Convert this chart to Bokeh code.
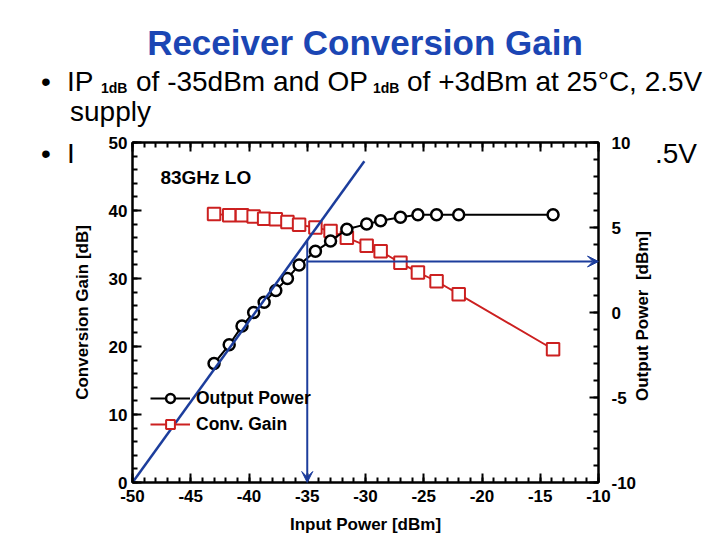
import numpy as np
from bokeh.embed import file_html
from bokeh.layouts import column
from bokeh.models import (Arrow, CustomJSTickFormatter, Div, FixedTicker, Label,
                          Legend, LegendItem, LinearAxis, Range1d, VeeHead)
from bokeh.plotting import figure
from bokeh.resources import INLINE

# measured points (input power in dBm)
input_power = [-43.0, -41.7, -40.6, -39.6, -38.7, -37.7, -36.7, -35.7, -34.3,
               -33.0, -31.6, -29.9, -28.7, -27.0, -25.5, -23.9, -22.0, -13.9]
output_power = [-3.0, -1.9, -0.8, 0.0, 0.6, 1.3, 2.0, 2.8, 3.6,
                4.2, 4.9, 5.2, 5.4, 5.6, 5.75, 5.75, 5.75, 5.75]
conv_gain = [39.5, 39.3, 39.3, 39.1, 38.8, 38.7, 38.3, 37.9, 37.5,
             37.0, 36.0, 34.8, 34.0, 32.3, 30.9, 29.6, 27.7, 19.6]

# small-signal extrapolation and 1 dB compression point
fit_in = [-50.0, -30.1]
fit_out = [-10.0, 8.9]
ip1db = -35.0
op1db = 3.0

x_ticks = list(range(-50, -9, 5))
gain_ticks = list(range(0, 51, 10))
pout_ticks = list(range(-10, 11, 5))

FONT = "Liberation Sans"
BLUE = "#1c3d9c"
TITLE_BLUE = "#1b46b4"
RED = "#cc2020"

# the page template has no body margin, so the figure can take the window
W, H = 720, 540

p = figure(width=W, height=H, output_backend="svg", toolbar_location=None,
           x_range=Range1d(-50, -10), y_range=Range1d(0, 50),
           min_border_left=132, min_border_right=122,
           min_border_top=142, min_border_bottom=58)
p.extra_y_ranges = {"pout": Range1d(-10, 10)}
p.grid.visible = False
p.outline_line_color = "black"
p.outline_line_width = 2
p.border_fill_color = "white"

plain = CustomJSTickFormatter(code="return tick.toString()")
p.xaxis.ticker = FixedTicker(ticks=x_ticks, minor_ticks=list(range(-50, -9)))
p.xaxis.axis_label = "Input Power [dBm]"
p.xaxis.formatter = plain
p.yaxis.ticker = FixedTicker(ticks=gain_ticks, minor_ticks=list(range(0, 51, 2)))
p.yaxis.axis_label = "Conversion Gain [dB]"
p.yaxis.formatter = plain

top = LinearAxis(ticker=FixedTicker(ticks=x_ticks, minor_ticks=list(range(-50, -9))),
                 formatter=CustomJSTickFormatter(code="return ''"))
p.add_layout(top, "above")
right = LinearAxis(y_range_name="pout", formatter=plain,
                   ticker=FixedTicker(ticks=pout_ticks, minor_ticks=list(range(-10, 11))))
p.add_layout(right, "right")

for ax in p.axis:
    ax.axis_line_width = 2
    ax.major_tick_line_width = 2
    ax.minor_tick_line_width = 2
    ax.major_tick_in = 9
    ax.major_tick_out = 0
    ax.minor_tick_in = 5
    ax.minor_tick_out = 0
    ax.major_label_text_font = FONT
    ax.major_label_text_font_style = "bold"
    ax.major_label_text_font_size = "17px"
    ax.major_label_text_color = "black"
    ax.axis_label_text_font = FONT
    ax.axis_label_text_font_style = "bold"
    ax.axis_label_text_font_size = "17px"
    ax.axis_label_text_color = "black"
p.xaxis.major_label_standoff = 7
p.xaxis.axis_label_standoff = 10
p.yaxis.major_label_standoff = 5
p.yaxis.axis_label_standoff = 14
right.major_label_standoff = 13

gl = p.line(input_power, conv_gain, line_color=RED, line_width=1.8)
gs = p.scatter(input_power, conv_gain, marker="square", size=12.5,
               line_color=RED, line_width=2, fill_color="white")
ol = p.line(input_power, output_power, y_range_name="pout",
            line_color="black", line_width=2)
os_ = p.scatter(input_power, output_power, y_range_name="pout", marker="circle",
                size=11, line_color="black", line_width=2.5, fill_color="white")

p.line(fit_in, fit_out, y_range_name="pout", line_color=BLUE, line_width=2.5)
drop_top = float(np.interp(ip1db, fit_in, fit_out))
p.add_layout(Arrow(x_start=ip1db, y_start=drop_top, x_end=ip1db, y_end=-10,
                   y_range_name="pout", line_color=BLUE, line_width=2,
                   end=VeeHead(size=11, fill_color=BLUE, line_color=BLUE)))
p.add_layout(Arrow(x_start=ip1db, y_start=op1db, x_end=-10, y_end=op1db,
                   y_range_name="pout", line_color=BLUE, line_width=2,
                   end=VeeHead(size=11, fill_color=BLUE, line_color=BLUE)))

legend = Legend(items=[LegendItem(label="Output Power", renderers=[ol, os_]),
                       LegendItem(label="Conv. Gain", renderers=[gl, gs])],
                location=(18, 47), padding=0, margin=0, spacing=4,
                glyph_width=40, glyph_height=22, label_height=22,
                label_standoff=6, border_line_color=None,
                background_fill_alpha=0, label_text_font=FONT,
                label_text_color="black",
                label_text_font_style="bold", label_text_font_size="17.5px")
p.add_layout(legend)

p.add_layout(Label(x=-47.6, y=44.8, text="83GHz LO", text_baseline="middle",
                   text_font=FONT, text_font_style="bold", text_color="black",
                   text_font_size="19px"))

# slide text around the chart: (left, baseline, text, size px, weight, colour)
slide = [
    (36, 86, "\u2022", 28, "normal", "black"),
    (62, 86, "IP", 28, "normal", "black"),
    (96, 89, "1dB", 14, "bold", "black"),
    (131, 86, "of -35dBm and OP", 28, "normal", "black"),
    (368, 89, "1dB", 14, "bold", "black"),
    (402, 86, "of +3dBm at 25\u00b0C, 2.5V", 28, "normal", "black"),
    (65, 116, "supply", 28, "normal", "black"),
    (36, 158, "\u2022", 28, "normal", "black"),
    (62, 158, "I", 28, "normal", "black"),
    (650, 158, ".5V", 28, "normal", "black"),
]
LH = 0.7                         # tight line boxes
BASE = (LH - 1.117) / 2 + 0.905  # baseline offset inside a line box, in em
parts = []
for left, base, txt, size, weight, color in slide:
    parts.append(
        f'<span style="position:absolute;left:{left}px;top:{base - BASE * size:.1f}px;'
        f"font-family:'{FONT}';font-size:{size}px;font-weight:{weight};"
        f'line-height:{LH};color:{color};white-space:nowrap">{txt}</span>')
parts.append(
    f'<div style="position:absolute;left:0px;top:{50 - BASE * 35:.1f}px;width:720px;'
    f"text-align:center;font-family:'{FONT}';font-size:35px;font-weight:bold;"
    f'line-height:{LH};color:{TITLE_BLUE};white-space:nowrap">Receiver Conversion Gain</div>')
parts.append(
    '<div style="position:absolute;left:637px;top:311px;'
    'transform:translate(-50%,-50%) rotate(-90deg);'
    f"font-family:'{FONT}';font-size:17px;font-weight:bold;line-height:1;"
    'color:black;white-space:nowrap">Output Power&nbsp;&nbsp;[dBm]</div>')

overlay = Div(text="".join(parts), width=W, height=H,
              styles={"position": "absolute", "left": "0px", "top": "0px",
                      "z-index": "10", "pointer-events": "none"})

page = column(overlay, p)
open("out.html", "w").write(file_html(page, INLINE, "Receiver Conversion Gain"))
